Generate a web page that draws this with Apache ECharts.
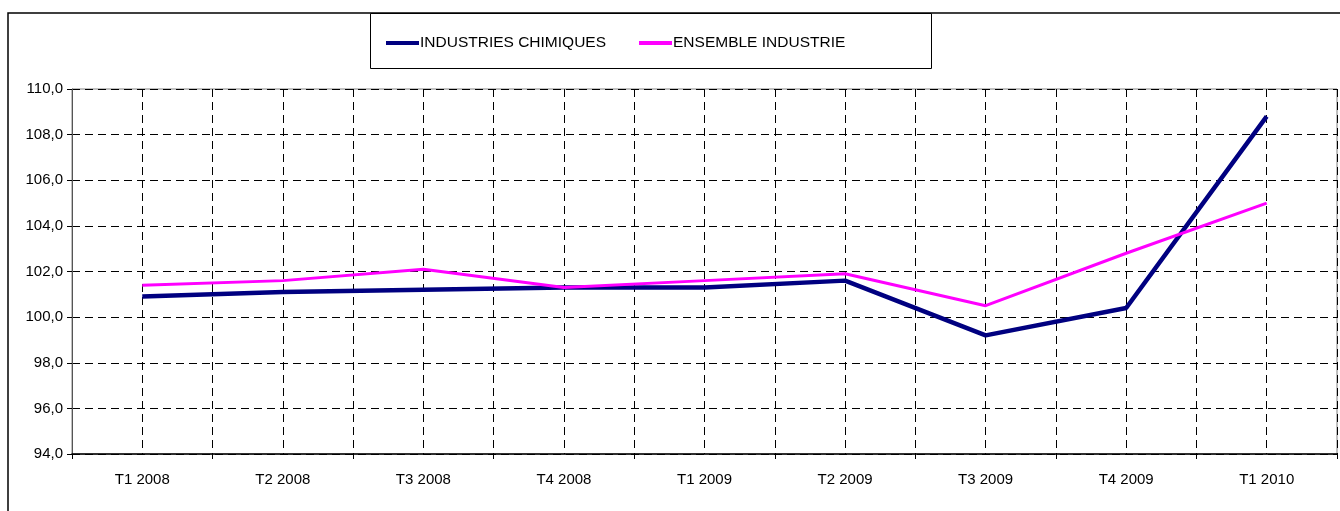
<!DOCTYPE html>
<html>
<head>
<meta charset="utf-8">
<script src="https://cdn.jsdelivr.net/npm/echarts@6/dist/echarts.min.js"></script>
<style>
  html, body { margin: 0; padding: 0; background: #fff; }
  #chart { width: 1340px; height: 511px; }
</style>
</head>
<body>
<div id="chart"></div>
<script>
  // trimestres
  var categories = ['T1 2008', 'T2 2008', 'T3 2008', 'T4 2008', 'T1 2009', 'T2 2009', 'T3 2009', 'T4 2009', 'T1 2010'];
  var chimiques = [100.9, 101.1, 101.2, 101.3, 101.3, 101.6, 99.2, 100.4, 108.8];
  var ensemble = [101.4, 101.6, 102.1, 101.3, 101.6, 101.9, 100.5, 102.8, 105.0];

  var font = 'Liberation Sans, Arial, sans-serif';
  var dash = [8, 5];

  var myChart = echarts.init(document.getElementById('chart'));
  myChart.setOption({
    animation: false,
    backgroundColor: '#ffffff',
    graphic: [
      {type: 'rect', shape: {x: 8, y: 13, width: 1340, height: 520}, style: {fill: 'none', stroke: '#000', lineWidth: 1.5}, z: -1},
      {type: 'rect', shape: {x: 370.5, y: 13.5, width: 561, height: 55}, style: {fill: '#fff', stroke: '#000', lineWidth: 1}, z: 0}
    ],
    legend: {
      left: 381,
      top: 30,
      itemGap: 33,
      itemWidth: 33,
      itemHeight: 4,
      icon: 'rect',
      textStyle: {fontFamily: font, fontSize: 15.5, color: '#000', padding: [0, 0, 0, -4]},
      data: ['INDUSTRIES CHIMIQUES', 'ENSEMBLE INDUSTRIE'],
      z: 5
    },
    grid: {
      left: 72, right: 3, top: 89, bottom: 57,
      show: true, borderColor: '#808080', borderWidth: 1
    },
    xAxis: [
      {
        type: 'category',
        data: categories,
        boundaryGap: true,
        axisLine: {lineStyle: {color: '#000', width: 1.5}},
        axisTick: {show: true, length: 5, lineStyle: {color: '#000'}},
        axisLabel: {fontFamily: font, fontSize: 15, color: '#000', margin: 18},
        splitLine: {show: false}
      },
      {
        type: 'value',
        min: 0, max: 18, interval: 1,
        position: 'bottom',
        axisLine: {show: false},
        axisTick: {show: false},
        axisLabel: {show: false},
        splitLine: {show: true, lineStyle: {color: '#000', type: dash, width: 1}}
      }
    ],
    yAxis: {
      type: 'value',
      min: 94, max: 110, interval: 2,
      axisLine: {show: true, lineStyle: {color: '#555', width: 1}},
      axisTick: {show: true, length: 5, lineStyle: {color: '#000'}},
      axisLabel: {
        fontFamily: font, fontSize: 15, color: '#000', margin: 9,
        formatter: function (v) { return v.toFixed(1).replace('.', ','); }
      },
      splitLine: {show: true, lineStyle: {color: '#000', type: dash, width: 1}}
    },
    series: [
      {
        name: 'INDUSTRIES CHIMIQUES',
        type: 'line',
        data: chimiques,
        symbol: 'none',
        color: '#000080',
        lineStyle: {width: 4.5, color: '#000080'},
        z: 3
      },
      {
        name: 'ENSEMBLE INDUSTRIE',
        type: 'line',
        data: ensemble,
        symbol: 'none',
        color: '#ff00ff',
        lineStyle: {width: 3, color: '#ff00ff'},
        z: 4
      }
    ]
  });
</script>
</body>
</html>
